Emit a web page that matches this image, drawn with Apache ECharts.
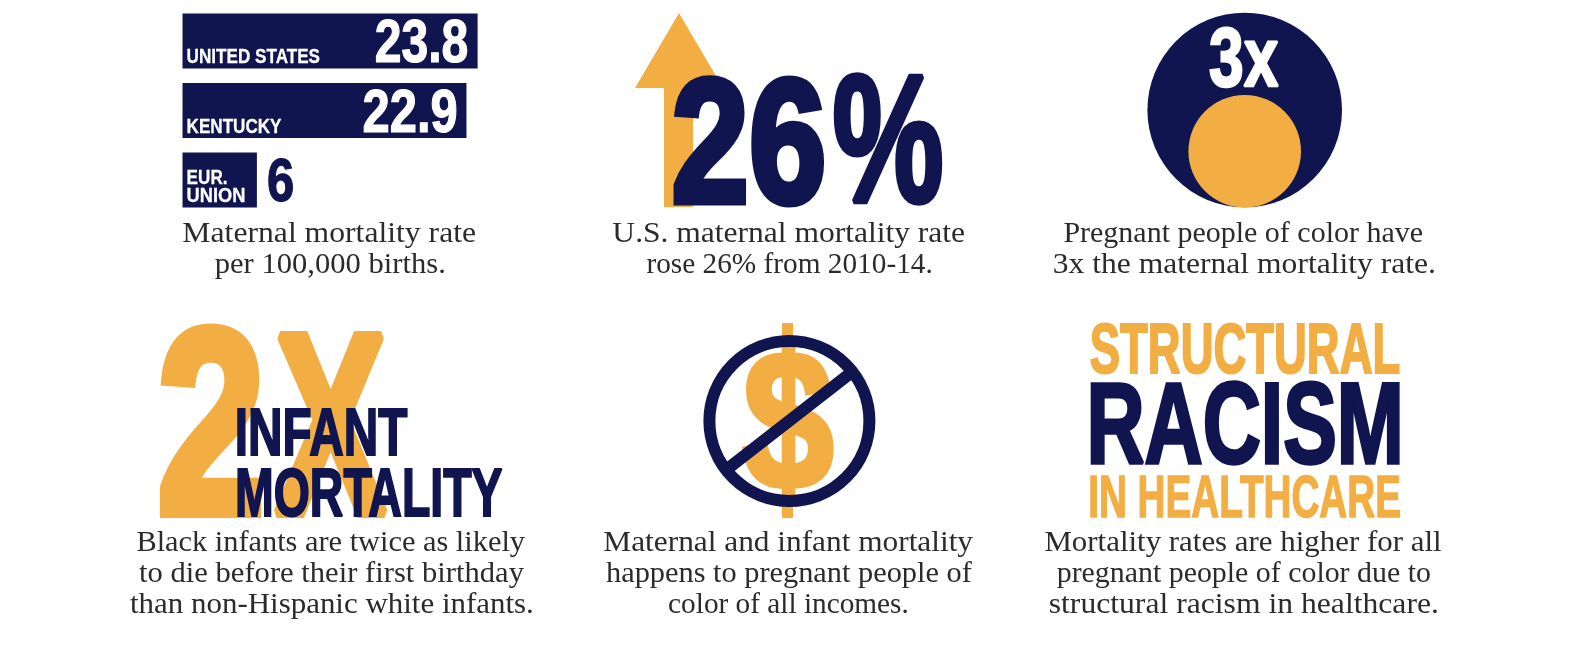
<!DOCTYPE html>
<html>
<head>
<meta charset="utf-8">
<title>Maternal and infant mortality</title>
<script src="https://cdn.jsdelivr.net/npm/echarts@6/dist/echarts.min.js"></script>
<style>
  html, body { margin: 0; padding: 0; background: #fff; }
  #main { width: 1570px; height: 650px; }
</style>
</head>
<body>
<div id="main"></div>
<script>
// data
var places = ['UNITED STATES', 'KENTUCKY', 'EUR.\nUNION'];
var rates = [23.8, 22.9, 6];
var rateLabels = ['23.8', '22.9', '6'];
var rateCaption = ['Maternal mortality rate', 'per 100,000 births.'];
var riseCaption = ['U.S. maternal mortality rate', 'rose 26% from 2010-14.'];
var colorCaption = ['Pregnant people of color have', '3x the maternal mortality rate.'];
var infantCaption = ['Black infants are twice as likely', 'to die before their first birthday', 'than non-Hispanic white infants.'];
var incomeCaption = ['Maternal and infant mortality', 'happens to pregnant people of', 'color of all incomes.'];
var racismCaption = ['Mortality rates are higher for all', 'pregnant people of color due to', 'structural racism in healthcare.'];

var NAVY = '#10144f';
var ORANGE = '#f2ae43';
var INK = '#2b2b2b';
var HEAVY = 'bold 100px "Liberation Sans Narrow", "Liberation Sans", sans-serif';
var SERIF = '100px "Liberation Serif", serif';

var ctx = document.createElement('canvas').getContext('2d');
ctx.textBaseline = 'middle';
ctx.textAlign = 'left';

// squeeze a heavy word so its ink fills the box
function fitText(text, x, top, w, h, fill, fat, z) {
  ctx.font = HEAVY;
  var m = ctx.measureText(text);
  var lw = fat === undefined ? 3 : fat;
  var sx = w / (m.actualBoundingBoxLeft + m.actualBoundingBoxRight + lw);
  var sy = h / (m.actualBoundingBoxAscent + m.actualBoundingBoxDescent + lw);
  return {
    type: 'text',
    z: z || 2,
    silent: true,
    x: x + (m.actualBoundingBoxLeft + lw / 2) * sx,
    y: top + (m.actualBoundingBoxAscent + lw / 2) * sy,
    scaleX: sx,
    scaleY: sy,
    style: {
      text: text, font: HEAVY, fill: fill, stroke: fill, lineWidth: lw,
      lineJoin: 'miter', miterLimit: 3, textAlign: 'left', verticalAlign: 'middle', x: 0, y: 0
    }
  };
}

// one caption line, set by its left and right edge and baseline
function captionLine(text, x0, x1, baseline) {
  ctx.font = SERIF;
  var m = ctx.measureText(text);
  var cap = ctx.measureText('H');
  var sy = 19.5 / (cap.actualBoundingBoxAscent + cap.actualBoundingBoxDescent);
  var sx = (x1 - x0) / (m.actualBoundingBoxLeft + m.actualBoundingBoxRight);
  return {
    type: 'text',
    z: 2,
    silent: true,
    x: x0 + m.actualBoundingBoxLeft * sx,
    y: baseline - cap.actualBoundingBoxDescent * sy,
    scaleX: sx,
    scaleY: sy,
    style: { text: text, font: SERIF, fill: INK, textAlign: 'left', verticalAlign: 'middle', x: 0, y: 0 }
  };
}

var BAR_H = 55;
var nameW = [[132], [94], [39, 57]];
var valueW = [92, 93, 25];

function renderBarText(params, api) {
  var i = api.value(1);
  var end = api.coord([api.value(0), i]);
  var start = api.coord([0, i]);
  var top = end[1] - BAR_H / 2;
  var kids = [];
  var lines = places[i].split('\n');
  if (lines.length === 1) {
    kids.push(fitText(lines[0], start[0] + 5, top + 35, nameW[i][0], 15, '#fff', 1.5));
  } else {
    kids.push(fitText(lines[0], start[0] + 5, top + 18, nameW[i][0], 14, '#fff', 1.5));
    kids.push(fitText(lines[1], start[0] + 5, top + 36, nameW[i][1], 14, '#fff', 1.5));
  }
  var inside = end[0] - start[0] > 200;
  kids.push(fitText(rateLabels[i], inside ? end[0] - 10 - valueW[i] : end[0] + 11, top + 5, valueW[i], 45, inside ? '#fff' : NAVY, 2));
  return { type: 'group', children: kids };
}

var graphics = [
  // arrow behind 26%
  { type: 'polygon', z: 1, silent: true, shape: { points: [[679, 13], [723, 88], [693, 88], [693, 207], [664, 207], [664, 88], [635, 88]] }, style: { fill: ORANGE } },
  fitText('26', 673, 75, 151, 132, NAVY, 4),
  fitText('%', 833, 72, 110, 135, NAVY, 3),

  // 3x circle
  { type: 'circle', z: 1, silent: true, shape: { cx: 1244.7, cy: 110, r: 97.3 }, style: { fill: NAVY } },
  { type: 'circle', z: 1, silent: true, shape: { cx: 1244.7, cy: 151.2, r: 56.3 }, style: { fill: ORANGE } },
  fitText('3x', 1209.3, 26, 69.7, 62.3, '#fff', 3),

  // 2X infant mortality
  fitText('2', 159, 323, 103, 195, ORANGE, 4, 1),
  fitText('X', 272, 328, 116, 190, ORANGE, 4, 1),
  fitText('INFANT', 237, 407, 171, 50, NAVY, 3),
  fitText('MORTALITY', 237, 467, 266, 51, NAVY, 3),

  // crossed out dollar
  fitText('$', 742, 337, 93, 168, ORANGE, 3, 1),
  { type: 'rect', z: 1, silent: true, shape: { x: 782, y: 323, width: 11, height: 195 }, style: { fill: ORANGE } },
  { type: 'circle', z: 2, silent: true, shape: { cx: 789.4, cy: 421, r: 80 }, style: { fill: 'none', stroke: NAVY, lineWidth: 12 } },
  { type: 'line', z: 2, silent: true, shape: { x1: 726, y1: 470, x2: 852, y2: 372 }, style: { stroke: NAVY, lineWidth: 12 } },

  // structural racism
  fitText('STRUCTURAL', 1090, 323, 310, 52, ORANGE, 3),
  fitText('RACISM', 1090, 381, 310, 85, NAVY, 3),
  fitText('IN HEALTHCARE', 1090, 475, 310, 43, ORANGE, 2.5),

  captionLine(rateCaption[0], 183, 475, 242),
  captionLine(rateCaption[1], 215, 444, 273),
  captionLine(riseCaption[0], 613, 964, 242),
  captionLine(riseCaption[1], 647, 931, 273),
  captionLine(colorCaption[0], 1064, 1422, 242),
  captionLine(colorCaption[1], 1054, 1434, 273),
  captionLine(infantCaption[0], 137, 525, 551.5),
  captionLine(infantCaption[1], 139, 524, 582.5),
  captionLine(infantCaption[2], 130, 532, 613),
  captionLine(incomeCaption[0], 604, 973, 551.5),
  captionLine(incomeCaption[1], 606, 972, 582.5),
  captionLine(incomeCaption[2], 669, 907, 613),
  captionLine(racismCaption[0], 1045, 1441, 551.5),
  captionLine(racismCaption[1], 1057, 1430, 582.5),
  captionLine(racismCaption[2], 1050, 1437, 613)
];

var myChart = echarts.init(document.getElementById('main'));
myChart.setOption({
  animation: false,
  backgroundColor: '#fff',
  grid: { left: 182.5, top: 6.2, width: 372, height: 208.5 },
  xAxis: { type: 'value', min: 0, max: 30, show: false },
  yAxis: { type: 'category', data: places, inverse: true, show: false },
  series: [
    {
      type: 'bar',
      data: rates,
      barWidth: BAR_H,
      itemStyle: { color: NAVY },
      silent: true
    },
    {
      type: 'custom',
      data: rates.map(function (v, i) { return [v, i]; }),
      encode: { x: 0, y: 1 },
      renderItem: renderBarText,
      silent: true,
      z: 3
    }
  ],
  graphic: graphics
});
</script>
</body>
</html>
